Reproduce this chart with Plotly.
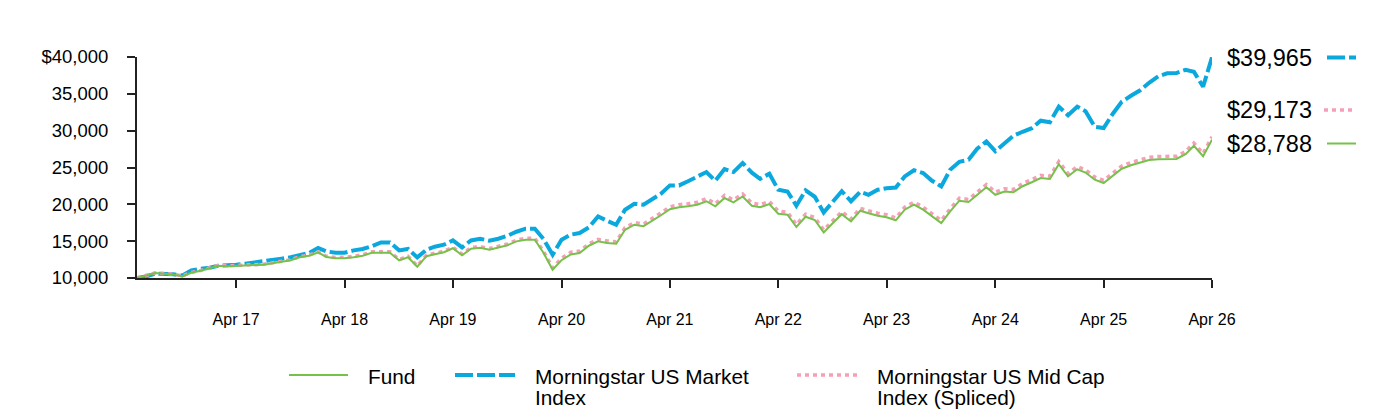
import pandas as pd
import plotly.graph_objects as go

# ---- data (monthly, May 2016 .. Apr 2026) ----
dates = pd.date_range("2016-05-31", periods=120, freq="ME")

fund = [10000, 10310, 10680, 10580, 10490, 10240, 10720, 10990, 11400, 11670,
        11600, 11670, 11710, 11760, 11800, 12010, 12210, 12420, 12820, 13030,
        13470, 12850, 12690, 12690, 12820, 13030, 13430, 13470, 13430, 12390,
        12820, 11530, 12960, 13230, 13500, 14040, 13090, 13980, 14110, 13840,
        14180, 14450, 14970, 15200, 15200, 13430, 11130, 12420, 13200, 13390,
        14380, 14970, 14750, 14650, 16550, 17230, 17030, 17710, 18520, 19340,
        19610, 19740, 19950, 20420, 19740, 20860, 20260, 21070, 19810, 19610,
        20040, 18730, 18590, 16920, 18320, 17870, 16190, 17460, 18660, 17680,
        19130, 18790, 18450, 18250, 17820, 19270, 19950, 19270, 18360, 17460,
        19040, 20490, 20310, 21240, 22320, 21300, 21750, 21640, 22460, 23000,
        23570, 23450, 25440, 23810, 24760, 24320, 23340, 22890, 23880, 24830,
        25310, 25710, 26010, 26120, 26090, 26160, 26800, 27950, 26530, 28788]

market = [10000, 10200, 10580, 10600, 10500, 10350, 11030, 11260, 11400, 11670,
          11710, 11800, 11940, 12080, 12250, 12350, 12620, 12820, 13160, 13390,
          14070, 13610, 13430, 13430, 13750, 13940, 14300, 14830, 14830, 13750,
          13940, 12800, 13840, 14250, 14520, 15100, 14150, 15100, 15330, 15060,
          15330, 15740, 16280, 16690, 16690, 15300, 13160, 15200, 15880, 16110,
          16870, 18360, 17780, 17230, 19270, 20080, 19950, 20630, 21440, 22570,
          22570, 23140, 23750, 24380, 23200, 24790, 24380, 25610, 24290, 23470,
          24150, 21980, 21750, 19810, 21890, 21030, 18900, 20350, 21780, 20420,
          21710, 21300, 21980, 22190, 22290, 23790, 24630, 24250, 23200, 22430,
          24700, 25780, 26050, 27540, 28540, 27210, 28220, 29310, 29850, 30330,
          31350, 31140, 33250, 32090, 33250, 32640, 30530, 30360, 32300, 33920,
          34740, 35480, 36500, 37380, 37790, 37820, 38270, 38000, 35960, 39965]

midcap = [10000, 10330, 10700, 10610, 10520, 10270, 10750, 11020, 11440, 11710,
          11650, 11720, 11760, 11810, 11860, 12070, 12270, 12480, 12890, 13100,
          13550, 12960, 12800, 12800, 12940, 13150, 13550, 13600, 13560, 12520,
          12950, 11660, 13100, 13370, 13640, 14180, 13240, 14130, 14260, 14000,
          14340, 14610, 15140, 15380, 15380, 13630, 11380, 12680, 13500, 13650,
          14650, 15250, 15030, 14930, 16830, 17520, 17330, 18020, 18840, 19670,
          19950, 20080, 20290, 20780, 20090, 21210, 20610, 21420, 20160, 19960,
          20390, 19080, 18940, 17260, 18660, 18210, 16520, 17800, 19000, 18020,
          19470, 19130, 18790, 18590, 18160, 19610, 20300, 19620, 18710, 17810,
          19390, 20850, 20670, 21600, 22690, 21670, 22120, 22010, 22830, 23370,
          23940, 23820, 25810, 24180, 25130, 24690, 23710, 23260, 24250, 25200,
          25680, 26080, 26380, 26490, 26460, 26530, 27170, 28320, 26900, 29173]

x_tickvals = pd.date_range("2017-04-30", periods=10, freq="12ME")
x_ticktext = ["Apr 17", "Apr 18", "Apr 19", "Apr 20", "Apr 21",
              "Apr 22", "Apr 23", "Apr 24", "Apr 25", "Apr 26"]
y_tickvals = [10000, 15000, 20000, 25000, 30000, 35000, 40000]
y_ticktext = ["10,000", "15,000", "20,000", "25,000", "30,000", "35,000", "$40,000"]

names = ["Fund", "Morningstar US Market<br>Index", "Morningstar US Mid Cap<br>Index (Spliced)"]

# ---- styles ----
GREEN = "#77C14B"
BLUE = "#0BA8DE"
PINK = "#F5A0B8"
FONT = "Liberation Sans, Arial, sans-serif"
BLUE_DASH = "18px,4px"
PINK_DASH = "4px,4px"

fig = go.Figure()
fig.add_trace(go.Scatter(x=dates, y=market, mode="lines", name=names[1],
                         line=dict(color=BLUE, width=4, dash=BLUE_DASH), showlegend=False))
fig.add_trace(go.Scatter(x=dates, y=midcap, mode="lines", name=names[2],
                         line=dict(color=PINK, width=3.5, dash=PINK_DASH), showlegend=False))
fig.add_trace(go.Scatter(x=dates, y=fund, mode="lines", name=names[0],
                         line=dict(color=GREEN, width=2), showlegend=False))

W_PLOT = 1396 - 137 - 184
H_PLOT = 417 - 57 - 139


def px_x(px):
    return (px - 137) / W_PLOT


def px_y(py):
    return (417 - 139 - py) / H_PLOT


shapes = []
annotations = []

# end-value labels with line samples at the right
end_labels = [
    (f"${market[-1]:,}", BLUE, 4, BLUE_DASH, 57.5, 1327, 1356),
    (f"${midcap[-1]:,}", PINK, 3.5, PINK_DASH, 110, 1324, 1356),
    (f"${fund[-1]:,}", GREEN, 2, "solid", 143.5, 1327, 1356),
]
for text, col, w, dash, py, sx0, sx1 in end_labels:
    annotations.append(dict(x=px_x(1225), y=px_y(py), xref="paper", yref="paper",
                            text=text, showarrow=False, xanchor="left", yanchor="middle",
                            font=dict(size=23.5, color="#000", family=FONT)))
    shapes.append(dict(type="line", xref="paper", yref="paper",
                       x0=px_x(sx0), x1=px_x(sx1), y0=px_y(py), y1=px_y(py),
                       line=dict(color=col, width=w, dash=dash)))

# bottom legend (each text line placed separately for tight line spacing)
legend_items = [
    (names[0], GREEN, 2, "solid", 289, 348, 366),
    (names[1], BLUE, 4, BLUE_DASH, 455, 515, 533),
    (names[2], PINK, 3.5, PINK_DASH, 797, 861, 875),
]
for text, col, w, dash, sx0, sx1, tx in legend_items:
    shapes.append(dict(type="line", xref="paper", yref="paper",
                       x0=px_x(sx0), x1=px_x(sx1), y0=px_y(375), y1=px_y(375),
                       line=dict(color=col, width=w, dash=dash)))
    for k, line_text in enumerate(text.split("<br>")):
        annotations.append(dict(x=px_x(tx), y=px_y(376 + 22 * k), xref="paper", yref="paper",
                                text=line_text, showarrow=False, xanchor="left",
                                yanchor="middle", align="left",
                                font=dict(size=20.8, color="#000", family=FONT)))

fig.update_layout(
    width=1396, height=417,
    margin=dict(l=137, r=184, t=57, b=139),
    paper_bgcolor="white", plot_bgcolor="white",
    font=dict(family=FONT, color="#000"),
    shapes=shapes, annotations=annotations,
    showlegend=False,
)
fig.update_xaxes(
    range=[dates[0], dates[-1]],
    tickvals=x_tickvals, ticktext=x_ticktext,
    showline=True, linecolor="#222", linewidth=2,
    ticks="outside", ticklen=8, tickwidth=2, tickcolor="#222",
    showgrid=False, zeroline=False,
    tickfont=dict(size=16, family=FONT, color="#000"),
    ticklabelstandoff=18,
)
fig.update_yaxes(
    range=[10000, 40000],
    tickvals=y_tickvals, ticktext=y_ticktext,
    showline=True, linecolor="#222", linewidth=2,
    ticks="outside", ticklen=8, tickwidth=2, tickcolor="#222",
    showgrid=False, zeroline=False,
    tickfont=dict(size=18.5, family=FONT, color="#000"),
    ticklabelstandoff=15,
)

fig.write_html("out.html")
